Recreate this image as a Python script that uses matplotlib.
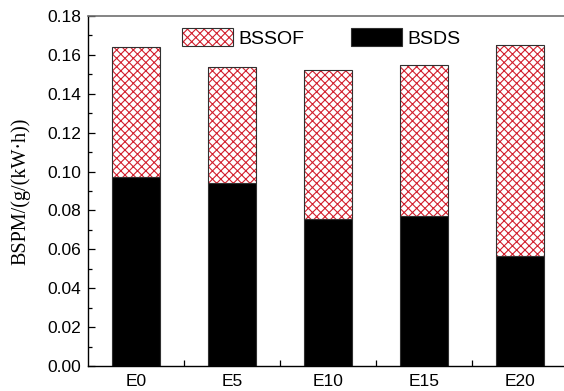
import matplotlib
matplotlib.use('Agg')
import matplotlib.pyplot as plt
from matplotlib.patches import Patch
from matplotlib.legend_handler import HandlerTuple
from matplotlib.ticker import MultipleLocator, FormatStrFormatter

plt.rcParams['font.family'] = ['Liberation Sans', 'DejaVu Sans']
plt.rcParams['hatch.linewidth'] = 0.8

# 数据
groups = ['E0', 'E5', 'E10', 'E15', 'E20']
bsds = [0.097, 0.094, 0.0755, 0.077, 0.0565]
bssof = [0.067, 0.060, 0.0765, 0.078, 0.1085]

red = '#d2202e'
edge = '#303030'
hatch = 'xxxx'

fig = plt.figure(figsize=(5.64, 3.91), dpi=100)
ax = fig.add_axes([88/564, 25/391, 480/564, 350/391])

x = list(range(len(groups)))
w = 0.5
ax.bar(x, bsds, w, color='black', edgecolor=edge, linewidth=0.8)
ax.bar(x, bssof, w, bottom=bsds, color='white', edgecolor=red, hatch=hatch, linewidth=0)
ax.bar(x, bssof, w, bottom=bsds, fill=False, edgecolor=edge, linewidth=0.8)

ax.set_xlim(-0.5, 4.5)
ax.set_ylim(0, 0.18)
ax.set_xticks(x)
ax.set_xticklabels(groups)
ax.set_xticks([0.5, 1.5, 2.5, 3.5], minor=True)
ax.yaxis.set_major_locator(MultipleLocator(0.02))
ax.yaxis.set_minor_locator(MultipleLocator(0.01))
ax.yaxis.set_major_formatter(FormatStrFormatter('%.2f'))

ax.tick_params(axis='both', which='both', direction='in', labelsize=12.5, width=0.9)
ax.tick_params(axis='y', which='major', length=5, pad=5)
ax.tick_params(axis='y', which='minor', length=3)
ax.tick_params(axis='x', which='major', length=0, pad=6)
ax.tick_params(axis='x', which='minor', length=4)

ax.spines['right'].set_visible(False)
ax.spines['top'].set_color('#707070')
ax.spines['top'].set_linewidth(1.2)
for s in ['left', 'bottom']:
    ax.spines[s].set_linewidth(1.0)
    ax.spines[s].set_color('black')

ax.set_ylabel('BSPM/(g/(kW·h))', family=['Liberation Serif', 'DejaVu Serif'], fontsize=14.5, labelpad=12)

# 图例
h_sof = (Patch(facecolor='white', edgecolor=red, hatch=hatch, linewidth=0),
         Patch(fill=False, edgecolor=edge, linewidth=0.8))
h_ds = Patch(facecolor='black', edgecolor=edge, linewidth=0.8)
ax.legend([h_sof, h_ds], ['BSSOF', 'BSDS'], ncol=2, frameon=False,
          loc='center left', bbox_to_anchor=((182-88)/480, 1-(38-16)/350),
          borderpad=0, borderaxespad=0, fontsize=14,
          handlelength=2.6, handleheight=1.05, handletextpad=0.3, columnspacing=2.4,
          handler_map={tuple: HandlerTuple(ndivide=1, pad=0)})

fig.savefig('out.png', dpi=100)
